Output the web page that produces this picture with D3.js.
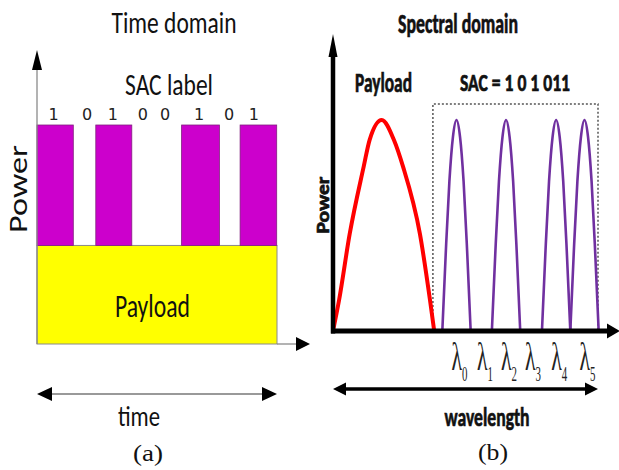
<!DOCTYPE html>
<html>
<head>
<meta charset="utf-8">
<script src="https://cdn.jsdelivr.net/npm/d3@7"></script>
<style>
  html, body { margin: 0; padding: 0; background: #fff; }
  svg { display: block; }
</style>
</head>
<body>
<svg width="619" height="470"></svg>
<script>
// ---- time domain data ----
var sacBits = ["1", "0", "1", "0", "0", "1", "0", "1"];
var bitTimes = [0.55, 1.67, 2.53, 3.53, 4.27, 5.4, 6.4, 7.23];
var pulseStart = [0, 1.96, 4.82, 6.77];
var pulseEnd = [1.21, 3.16, 6.08, 7.99];
var timeLevels = [0.45, 1]; // payload level, label level

// ---- spectral domain data ----
var lambdaNames = ["0", "1", "2", "3", "4", "5"];
var lambdaPos = [46.6, 56.2, 65.3, 74.3, 84.2, 94.9];
var sacCode = [1, 0, 1, 0, 1, 1];
var peakHalfWidth = 5.35;
var peakU = [-1, -0.75, -0.5, -0.25, 0, 0.25, 0.5, 0.75, 1];
var peakH = [0, 0.38, 0.71, 0.92, 1, 0.92, 0.71, 0.38, 0];
var payloadWl = [0, 2.3, 6.3, 11.6, 13.8, 18.4, 23.0, 26.4, 32.8, 36.6, 38.2];
var payloadPow = [0, 0.147, 0.46, 0.78, 0.905, 1, 0.905, 0.78, 0.46, 0.147, 0];
var sacWindow = [37.7, 100];
var sacWindowTop = 1.076;

var sans = "Carlito, Lato, 'Liberation Sans', sans-serif";
var serif = "'Liberation Serif', 'Times New Roman', serif";

var svg = d3.select("svg");

function arrowHead(g, x, y, angle, len, wid, color) {
  // tip at (x,y), pointing toward angle (deg)
  g.append("path")
    .attr("d", "M0,0L" + (-len) + "," + (-wid / 2) + "L" + (-len) + "," + (wid / 2) + "Z")
    .attr("transform", "translate(" + x + "," + y + ") rotate(" + angle + ")")
    .attr("fill", color);
}

function label(g, txt, x, y, size, w, opts) {
  opts = opts || {};
  var t = g.append("text")
    .attr("x", x).attr("y", y)
    .attr("text-anchor", opts.anchor || "middle")
    .attr("font-family", opts.family || sans)
    .attr("font-size", size)
    .attr("font-weight", opts.bold ? "bold" : "normal")
    .attr("fill", opts.fill || "#111")
    .text(txt);
  if (opts.bold) t.attr("stroke", opts.fill || "#111").attr("stroke-width", 0.7);
  if (w) t.attr("textLength", w).attr("lengthAdjust", "spacingAndGlyphs");
  if (opts.rotate) t.attr("transform", "rotate(-90," + x + "," + y + ")");
  return t;
}

// ================= (a) time domain =================
var left = svg.append("g");
var tx = d3.scaleLinear().domain([0, 8]).range([37, 277]);
var ty = d3.scaleLinear().domain([0, 1]).range([344, 125]);

// payload block
left.append("rect")
  .attr("x", tx(0)).attr("y", ty(timeLevels[0]))
  .attr("width", tx(8) - tx(0)).attr("height", ty(0) - ty(timeLevels[0]))
  .attr("fill", "#ffff00").attr("stroke", "#8a8a8a").attr("stroke-width", 1);

// SAC label pulses
left.selectAll("rect.pulse")
  .data(d3.range(pulseStart.length))
  .enter().append("rect")
  .attr("class", "pulse")
  .attr("x", i => tx(pulseStart[i]))
  .attr("y", ty(timeLevels[1]))
  .attr("width", i => tx(pulseEnd[i]) - tx(pulseStart[i]))
  .attr("height", ty(timeLevels[0]) - ty(timeLevels[1]))
  .attr("fill", "#cc00cc").attr("stroke", "#80207f").attr("stroke-width", 0.8);

// bit labels
left.selectAll("text.bit")
  .data(sacBits)
  .enter().append("text")
  .attr("class", "bit")
  .attr("x", (d, i) => tx(bitTimes[i]))
  .attr("y", ty(timeLevels[1]) - 5)
  .attr("text-anchor", "middle")
  .attr("font-family", "'DejaVu Sans', sans-serif")
  .attr("font-size", 16)
  .attr("fill", "#222")
  .text(d => d);

// axes
left.append("line")
  .attr("x1", tx(0)).attr("y1", ty(0)).attr("x2", tx(0)).attr("y2", 68)
  .attr("stroke", "#8a8a8a").attr("stroke-width", 1.3);
arrowHead(left, tx(0), 50, -90, 20, 10, "#000");
left.append("line")
  .attr("x1", tx(8)).attr("y1", ty(0)).attr("x2", 298).attr("y2", ty(0))
  .attr("stroke", "#8a8a8a").attr("stroke-width", 1.3);
arrowHead(left, 310, ty(0), 0, 14, 14, "#000");

// time span arrow
left.append("line")
  .attr("x1", tx(0) + 10).attr("y1", 394).attr("x2", tx(8) - 10).attr("y2", 394)
  .attr("stroke", "#777").attr("stroke-width", 1.6);
arrowHead(left, tx(0), 394, 180, 15, 14, "#000");
arrowHead(left, tx(8), 394, 0, 15, 14, "#000");

label(left, "Time domain", 174, 33, 31, 125);
label(left, "SAC label", 169, 95, 31, 88);
label(left, "Payload", 152.5, 317, 32, 75);
label(left, "Power", 27, 189, 26, 88, { rotate: true });
label(left, "time", 139, 426, 29, 42);
label(left, "(a)", 148, 461, 23, 30, { family: serif });

// ================= (b) spectral domain =================
var right = svg.append("g");
var wx = d3.scaleLinear().domain([0, 100]).range([333, 598]);
var py = d3.scaleLinear().domain([0, 1]).range([331, 120]);

// SAC window (dotted)
right.append("path")
  .attr("d", "M" + wx(sacWindow[0]) + "," + py(0) +
    "V" + py(sacWindowTop) + "H" + wx(sacWindow[1]) + "V" + py(0))
  .attr("fill", "none").attr("stroke", "#555")
  .attr("stroke-width", 1.5).attr("stroke-dasharray", "2,2");

var line = d3.line()
  .x(d => wx(d[0])).y(d => py(d[1]))
  .curve(d3.curveMonotoneX);

// payload spectrum
right.append("path")
  .datum(payloadWl.map((w, i) => [w, payloadPow[i]]))
  .attr("d", line)
  .attr("fill", "none").attr("stroke", "#ff0000").attr("stroke-width", 4);

// SAC peaks
var peaks = lambdaPos.filter((p, i) => sacCode[i] === 1);
right.selectAll("path.peak")
  .data(peaks.map(c => peakU.map((u, j) => [c + u * peakHalfWidth, peakH[j]])))
  .enter().append("path")
  .attr("class", "peak")
  .attr("d", line)
  .attr("fill", "none").attr("stroke", "#7030a0").attr("stroke-width", 2.6);

// axes
right.append("line")
  .attr("x1", wx(0)).attr("y1", py(0) + 2.5).attr("x2", wx(0)).attr("y2", 55)
  .attr("stroke", "#000").attr("stroke-width", 4.5);
arrowHead(right, wx(0), 34, -90, 23, 9, "#000");
right.append("line")
  .attr("x1", wx(0) - 2).attr("y1", py(0)).attr("x2", 609).attr("y2", py(0))
  .attr("stroke", "#000").attr("stroke-width", 5);
arrowHead(right, 620, py(0), 0, 13, 15, "#000");

// lambda labels (tall, narrow glyphs as in the source figure)
var lt = right.selectAll("text.lam")
  .data(lambdaNames)
  .enter().append("text")
  .attr("class", "lam")
  .attr("x", (d, i) => wx(lambdaPos[i]) - 5)
  .attr("y", 370)
  .attr("font-family", serif)
  .attr("font-size", 40)
  .attr("fill", "#222")
  .attr("textLength", 16)
  .attr("lengthAdjust", "spacingAndGlyphs");
lt.append("tspan").text("λ");
lt.append("tspan").attr("font-size", 20).attr("dy", 11).text(d => d);

// wavelength span arrow
right.append("line")
  .attr("x1", wx(0) + 8).attr("y1", 389).attr("x2", wx(100) - 8).attr("y2", 389)
  .attr("stroke", "#000").attr("stroke-width", 3.5);
arrowHead(right, wx(0), 389, 180, 13, 13, "#000");
arrowHead(right, wx(100), 389, 0, 13, 13, "#000");

label(right, "Spectral domain", 458, 33, 28, 120, { bold: true });
label(right, "Payload", 383.5, 92, 28, 57, { bold: true });
label(right, "SAC = 1 0 1 011", 515, 91, 24, 110, { bold: true });
label(right, "Power", 329, 205, 19, 57, { bold: true, rotate: true });
label(right, "wavelength", 487, 426, 27, 85, { bold: true });
label(right, "(b)", 493, 460, 23, 30, { family: serif });
</script>
</body>
</html>
